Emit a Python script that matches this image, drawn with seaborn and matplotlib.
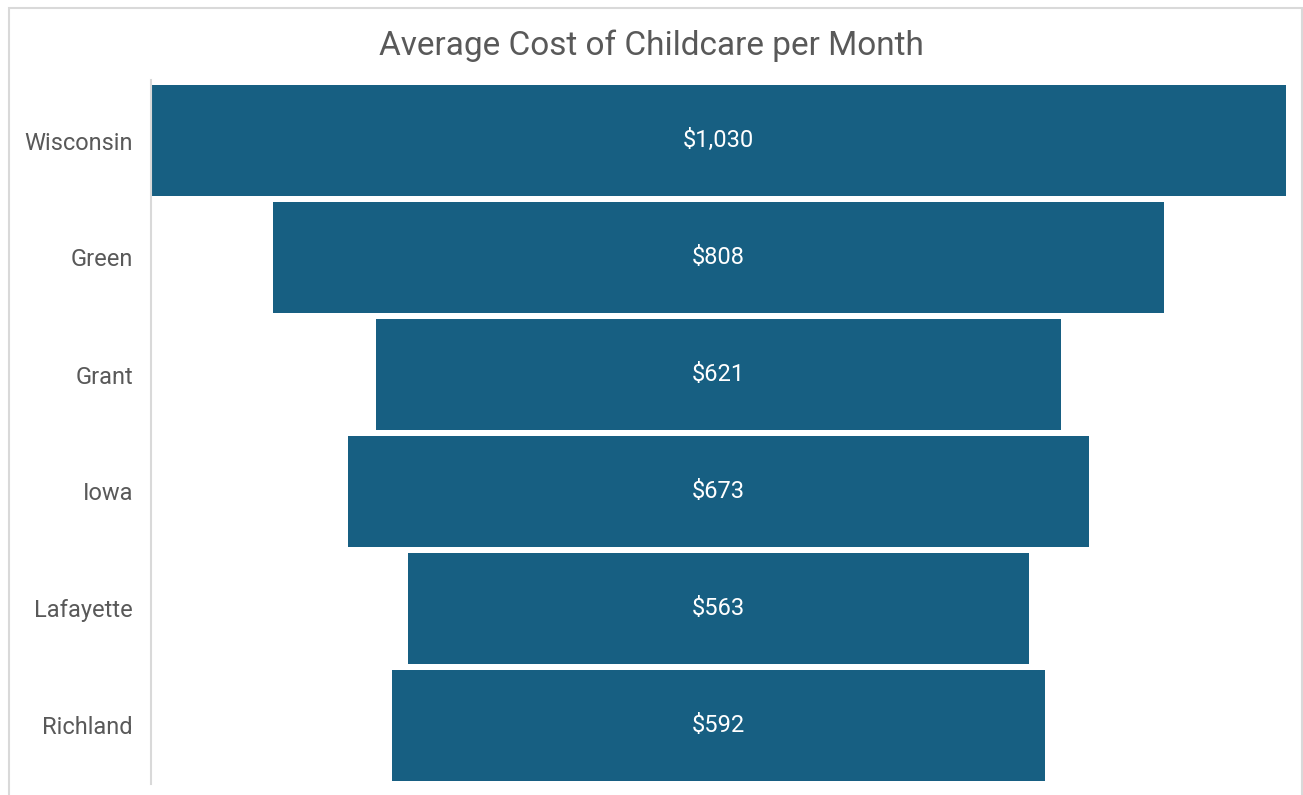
import matplotlib
matplotlib.use("Agg")
import matplotlib.pyplot as plt
import matplotlib.patches as mpatches
import seaborn as sns
import pandas as pd

# data
counties = ["Wisconsin", "Green", "Grant", "Iowa", "Lafayette", "Richland"]
costs = [1030, 808, 621, 673, 563, 592]
labels = ["$1,030", "$808", "$621", "$673", "$563", "$592"]

BAR_COLOR = "#175F82"
TEXT_GRAY = "#595959"

sns.set_style("white")
plt.rcParams["font.family"] = ["Roboto", "DejaVu Sans"]

df = pd.DataFrame({"county": counties, "cost": costs})

fig = plt.figure(figsize=(13.03, 7.95), dpi=100)
ax = fig.add_axes([151 / 1303, 1 - 784 / 795, (1286 - 151) / 1303, (784 - 82) / 795])

sns.barplot(data=df, x="cost", y="county", color=BAR_COLOR, saturation=1,
            width=0.95, orient="h", ax=ax, order=counties)

# center the bars -> funnel
for p in ax.patches:
    p.set_x(-p.get_width() / 2)
    p.set_edgecolor("none")

ax.set_xlim(-max(costs) / 2, max(costs) / 2)
ax.set_ylim(len(counties) - 0.5, -0.5)

for i, lab in enumerate(labels):
    ax.text(0, i, lab, ha="center", va="center", color="white", fontsize=17)

ax.set_xlabel("")
ax.set_ylabel("")
ax.set_xticks([])
ax.tick_params(axis="y", length=0, pad=13, labelsize=17, labelcolor=TEXT_GRAY)

for s in ["top", "right", "bottom"]:
    ax.spines[s].set_visible(False)
ax.spines["left"].set_color("#D9D9D9")
ax.spines["left"].set_linewidth(1.5)
ax.spines["left"].set_bounds(-0.52, len(counties) - 0.5)

fig.text(0.5, 1 - 46 / 795, "Average Cost of Childcare per Month",
         ha="center", va="center", fontsize=24, color=TEXT_GRAY)

# chart area border
border = mpatches.Rectangle((8.5 / 1303, -0.02), (1302 - 8.5) / 1303, 1.02 - 7.5 / 795,
                            transform=fig.transFigure, fill=False,
                            edgecolor="#D9D9D9", linewidth=1.5)
fig.patches.append(border)

fig.savefig("out.png", dpi=100)
